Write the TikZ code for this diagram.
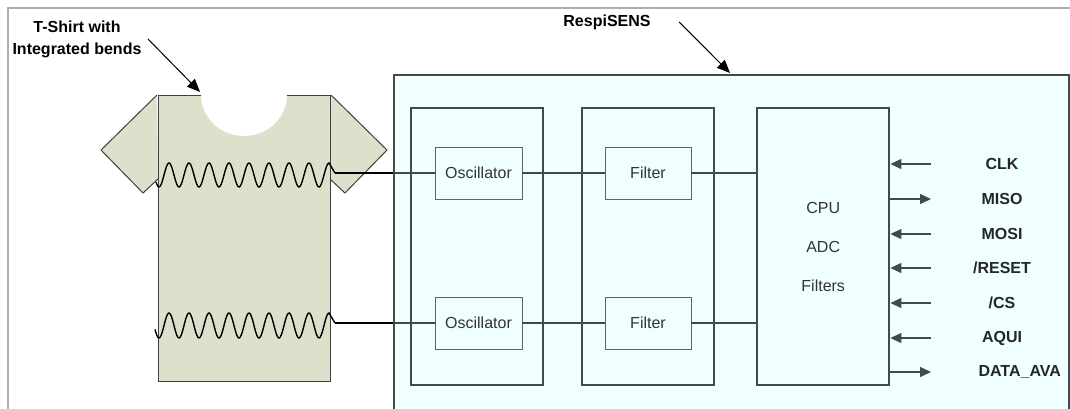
\documentclass[tikz,border=0pt]{standalone}
\usepackage{fontspec}
\setmainfont{Liberation Sans}
\usepackage{tikz}
\usetikzlibrary{positioning,arrows.meta,calc}
\definecolor{sensfill}{RGB}{240,255,255}
\definecolor{slate}{RGB}{62,76,76}
\definecolor{shirtfill}{RGB}{221,224,203}
\definecolor{framegray}{RGB}{175,175,175}

\begin{document}
\begin{tikzpicture}[x=1pt, y=-1pt,
    every node/.style={font=\fontsize{16}{20}\selectfont, text=black!80},
    blk/.style={draw=slate, line width=2.4pt, anchor=north west,
                minimum width=132pt, minimum height=277pt},
    unitbox/.style={draw=slate!85, line width=0.8pt, fill=sensfill,
                    minimum width=87pt, minimum height=52pt},
    wire/.style={draw=slate, line width=1.3pt},
    pin/.style={draw=slate, line width=1.2pt, -{Triangle[length=11pt,width=10pt]}},
    pinlbl/.style={font=\fontsize{16}{20}\selectfont\bfseries, text=black!85},
    note/.style={font=\fontsize{16}{22}\selectfont\bfseries, text=black, align=center},
    callout/.style={draw=black, line width=1pt, -{Triangle[length=13pt,width=11pt]}},
    bendline/.style={draw=black, line width=1.4pt},
    cloth/.style={fill=shirtfill, draw=black!75, line width=1pt}]
  \useasboundingbox (0,0) rectangle (1070,408);
  \clip (0,0) rectangle (1070,408);
  \draw[framegray, line width=2pt] (8,8) rectangle (1100,440);

  % sensor unit
  \node[draw=slate, line width=1.5pt, fill=sensfill, anchor=north west,
        minimum width=675pt, minimum height=360pt] (sens) at (393,74) {};

  \node[blk] (oscblk) at (410,107) {};
  \node[blk] (filtblk) at (581,107) {};
  \node[blk, align=center, font=\fontsize{16}{39}\selectfont] (cpu) at (756,107)
      {CPU\\ADC\\Filters};

  \node[unitbox] (oscA) at (478.5,173) {Oscillator};
  \node[unitbox] (oscB) at ($(oscA)+(0,150)$) {Oscillator};
  \node[unitbox, minimum width=86pt] (filtA) at (648,173) {Filter};
  \node[unitbox, minimum width=86pt] (filtB) at ($(filtA)+(0,150)$) {Filter};

  % interface pins
  \foreach \lbl/\y in {CLK/164, MOSI/234, {/RESET}/268, {/CS}/303, AQUI/338} {
    \node[pinlbl] (pin-\y) at (1002,\y) {\lbl};
    \coordinate (src-\y) at (931,\y);
    \draw[pin] (src-\y) -- (src-\y -| cpu.east);
  }
  \node[pinlbl] (pin-199) at (1002,199) {MISO};
  \coordinate (dst-199) at (931,199);
  \draw[pin] (dst-199 -| cpu.east) -- (dst-199);
  \node[pinlbl, anchor=west] (pin-372) at (975,372) {DATA\_AVA};
  \coordinate (dst-372) at (931,372);
  \draw[pin] (dst-372 -| cpu.east) -- (dst-372);

  % t-shirt, sleeves first
  \filldraw[cloth] (157,95) -- (101,150) -- (143,193) -- (158,179);
  \filldraw[cloth] (331,95) -- (387,150) -- (345,193) -- (330,179);
  \fill[shirtfill] (158,95) -- (201,95)
      arc[start angle=180, end angle=360, x radius=43pt, y radius=41pt]
      -- (330,95) -- (330,381) -- (158,381) -- cycle;
  \draw[black!75, line width=1pt] (201,95) -- (158,95) -- (158,381)
      -- (330,381) -- (330,95) -- (287,95);

  % stretch bends
  \draw[bendline] plot[domain=156:329, samples=180] (\x, {175-12*cos(18*(\x-169))})
      -- (335,173) coordinate (bendA);
  \draw[bendline] plot[domain=155:329, samples=180] (\x, {325.5-12.5*cos(18*(\x-169))})
      -- (335,323) coordinate (bendB);

  \draw[bendline, line width=1.2pt] (bendA) -- (bendA -| sens.west);
  \draw[bendline, line width=1.2pt] (bendB) -- (bendB -| sens.west);
  \draw[wire] (bendA -| sens.west) -- (oscA.west);
  \draw[wire] (bendB -| sens.west) -- (oscB.west);
  \draw[wire] (oscA.east) -- (filtA.west);
  \draw[wire] (oscB.east) -- (filtB.west);
  \draw[wire] (filtA.east) -- (filtA.east -| cpu.west);
  \draw[wire] (filtB.east) -- (filtB.east -| cpu.west);

  % callouts
  \node[note] (shirtlbl) at (77,39) {T-Shirt with\\Integrated bends};
  \coordinate (neck) at (200,92);
  \draw[callout] ([xshift=3pt]shirtlbl.east) -- (neck);

  \node[note] (senslbl) at (607,22) {RespiSENS};
  \coordinate (senstip) at (730,73);
  \draw[callout] ([xshift=25pt]senslbl.east) -- (senstip);
\end{tikzpicture}
\end{document}
